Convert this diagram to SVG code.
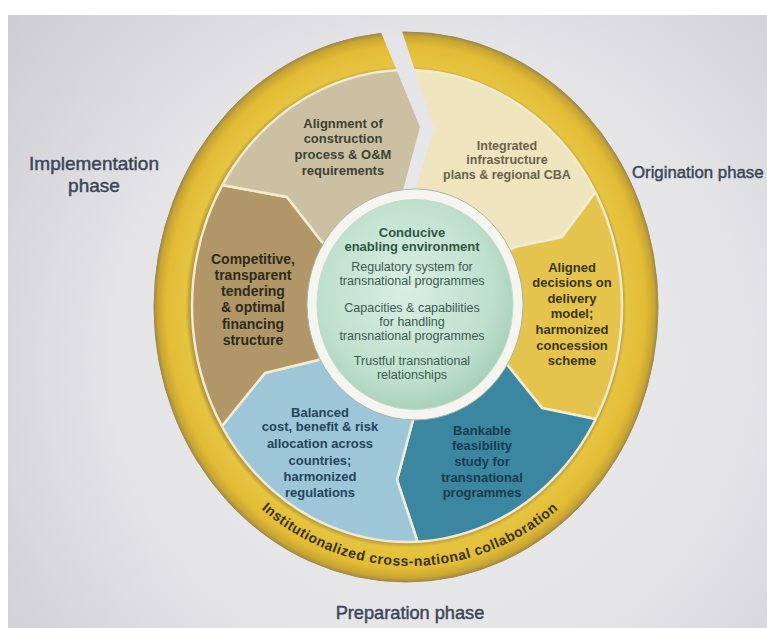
<svg xmlns="http://www.w3.org/2000/svg" width="767" height="628" viewBox="0 0 767 628">
<defs>
  <radialGradient id="bg" cx="430" cy="360" r="580" gradientUnits="userSpaceOnUse">
    <stop offset="0" stop-color="#ececee"/>
    <stop offset="0.55" stop-color="#e4e4e7"/>
    <stop offset="1" stop-color="#c9c8ce"/>
  </radialGradient>
  <radialGradient id="ringG" cx="0.5" cy="0.5" r="0.5">
    <stop offset="0.852" stop-color="#a98c35"/>
    <stop offset="0.875" stop-color="#e6c440"/>
    <stop offset="0.95" stop-color="#e2bc36"/>
    <stop offset="0.985" stop-color="#c9a532"/>
    <stop offset="1" stop-color="#9f8a4a"/>
  </radialGradient>
  <radialGradient id="greenG" cx="0.45" cy="0.42" r="0.62">
    <stop offset="0" stop-color="#d8efe2"/>
    <stop offset="0.7" stop-color="#bfe0cd"/>
    <stop offset="1" stop-color="#a3cdb7"/>
  </radialGradient>
  <clipPath id="innerClip">
    <ellipse cx="407" cy="306" rx="215" ry="236"/>
  </clipPath>
  <path id="ringPath" d="M172,306 A238,260 0 0 0 648,306"/>
  <style>
    .seg { stroke: #f2ecd3; stroke-width: 2.5; stroke-linejoin: round; }
    .lbl { font-family: "Liberation Sans", Arial, sans-serif; font-weight: bold; font-size: 13px; text-anchor: middle; }
    .ctr { font-family: "Liberation Sans", Arial, sans-serif; font-size: 12.5px; text-anchor: middle; fill: #3c5a50; }
    .ctrb { font-weight: bold; fill: #2d5843; font-size: 13px; }
    .phase { font-family: "Liberation Sans", Arial, sans-serif; fill: #3b4557; stroke: #3b4557; stroke-width: 0.45; }
  </style>
</defs>

<rect x="0" y="0" width="767" height="628" fill="#ffffff"/>
<rect x="8" y="15" width="759" height="613" fill="url(#bg)"/>

<g id="ring">
  <path d="M154,307 a252,275 0 1,0 504,0 a252,275 0 1,0 -504,0 Z M192,306 a215,236 0 1,0 430,0 a215,236 0 1,0 -430,0 Z" fill="url(#ringG)" fill-rule="evenodd" stroke="#a08a45" stroke-width="1"/>
  <text font-family="Liberation Sans, Arial, sans-serif" font-weight="bold" font-size="14" letter-spacing="0.6" fill="#3a3217"><textPath href="#ringPath" startOffset="50%" text-anchor="middle">Institutionalized cross-national collaboration</textPath></text>
</g>

<g id="seg-integrated">
  <polygon class="seg" clip-path="url(#innerClip)" fill="#eee5bf" points="412,305 408,190 427,128 385,10 650,60 620,160 597,190 562,237 515,247"/>
  <text class="lbl" style="font-size:12.5px" fill="#66634a"><tspan x="507" y="150">Integrated</tspan><tspan x="507" y="164">infrastructure</tspan><tspan x="507" y="179">plans &amp; regional CBA</tspan></text>
</g>

<g id="seg-aligned">
  <polygon class="seg" clip-path="url(#innerClip)" fill="#e5c44e" points="412,305 515,247 562,237 597,190 620,160 700,300 640,428 600,420 542,408 505,362"/>
  <text class="lbl" fill="#3a3418"><tspan x="572" y="272">Aligned</tspan><tspan x="572" y="287">decisions on</tspan><tspan x="572" y="303">delivery</tspan><tspan x="572" y="318">model;</tspan><tspan x="572" y="334">harmonized</tspan><tspan x="572" y="350">concession</tspan><tspan x="572" y="365">scheme</tspan></text>
</g>

<g id="seg-bankable">
  <polygon class="seg" clip-path="url(#innerClip)" fill="#3b87a1" points="412,305 505,362 542,408 600,420 640,428 560,600 422,570 417,540 397,480 413,420"/>
  <text class="lbl" fill="#1c3a4d"><tspan x="482" y="435">Bankable</tspan><tspan x="482" y="450">feasibility</tspan><tspan x="482" y="466">study for</tspan><tspan x="482" y="482">transnational</tspan><tspan x="482" y="497">programmes</tspan></text>
</g>

<g id="seg-balanced">
  <polygon class="seg" clip-path="url(#innerClip)" fill="#9dc6d9" points="412,305 413,420 397,480 417,540 422,570 250,580 200,453 222,426 265,373 318,360"/>
  <text class="lbl" fill="#24445a"><tspan x="320" y="417">Balanced</tspan><tspan x="320" y="431">cost, benefit &amp; risk</tspan><tspan x="320" y="448">allocation across</tspan><tspan x="320" y="465">countries;</tspan><tspan x="320" y="481">harmonized</tspan><tspan x="320" y="497">regulations</tspan></text>
</g>

<g id="seg-competitive">
  <polygon class="seg" clip-path="url(#innerClip)" fill="#b19767" points="412,305 318,360 265,373 222,426 200,453 120,300 190,179 222,185 287,197 322,242"/>
  <text class="lbl" style="font-size:14px" fill="#2e2a1e"><tspan x="253" y="264">Competitive,</tspan><tspan x="253" y="280">transparent</tspan><tspan x="253" y="296">tendering</tspan><tspan x="253" y="312">&amp; optimal</tspan><tspan x="253" y="329">financing</tspan><tspan x="253" y="345">structure</tspan></text>
</g>

<g id="seg-alignment">
  <polygon class="seg" clip-path="url(#innerClip)" fill="#ccc0a3" points="412,305 322,242 287,197 222,185 190,179 250,40 385,10 427,128 408,190"/>
  <text class="lbl" fill="#3b4236"><tspan x="343" y="128">Alignment of</tspan><tspan x="343" y="143">construction</tspan><tspan x="343" y="159">process &amp; O&amp;M</tspan><tspan x="343" y="175">requirements</tspan></text>
</g>

<ellipse cx="407" cy="306" rx="215" ry="236" fill="none" stroke="#f1ead0" stroke-width="2.5"/>

<polygon id="gap" points="378,25 420,127 402,194 414,194 434,129 400,25" fill="url(#bg)"/>

<g id="center">
  <ellipse cx="415" cy="304.5" rx="108" ry="115.5" fill="#f5f5ef" stroke="#aab3a6" stroke-width="1"/>
  <ellipse cx="415" cy="304.5" rx="98" ry="105" fill="url(#greenG)" stroke="#c9d9cc" stroke-width="1"/>
  <text class="ctr ctrb"><tspan x="412" y="237">Conducive</tspan><tspan x="412" y="251">enabling environment</tspan></text>
  <text class="ctr"><tspan x="412" y="271">Regulatory system for</tspan><tspan x="412" y="285">transnational programmes</tspan></text>
  <text class="ctr"><tspan x="412" y="312">Capacities &amp; capabilities</tspan><tspan x="412" y="326">for handling</tspan><tspan x="412" y="340">transnational programmes</tspan></text>
  <text class="ctr"><tspan x="412" y="365">Trustful transnational</tspan><tspan x="412" y="379">relationships</tspan></text>
</g>

<g id="connectors"/>

<g id="labels">
  <text class="phase" style="font-size:19px" text-anchor="middle"><tspan x="94" y="170">Implementation</tspan><tspan x="94" y="192">phase</tspan></text>
  <text class="phase" style="font-size:16.8px" x="632" y="178">Origination phase</text>
  <text class="phase" style="font-size:18.2px" x="410" y="619" text-anchor="middle">Preparation phase</text>
</g>
</svg>
